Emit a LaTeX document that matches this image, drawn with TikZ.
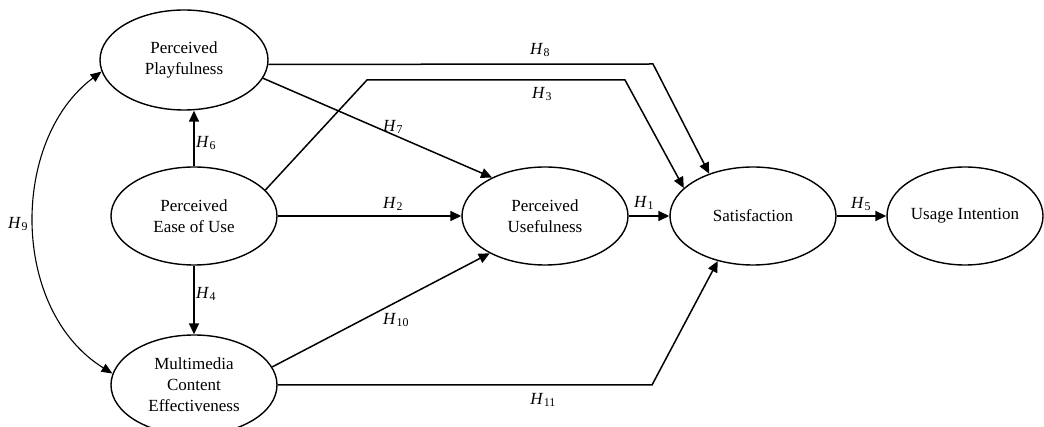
\documentclass[tikz,border=0pt]{standalone}
\usepackage{fontspec}
\setmainfont{Liberation Serif}
\usetikzlibrary{shapes.geometric,arrows.meta}
\newcommand{\hyp}[1]{\textit{H}\kern0.5pt\textsubscript{#1}}
\begin{document}
\begin{tikzpicture}[x=1pt,y=-1pt,
  latent/.style={ellipse,draw,line width=1.4pt,inner sep=0pt,minimum width=166pt,minimum height=98pt,align=center,font=\fontsize{17}{21}\selectfont},
  arr/.style={line width=1.5pt,-{Triangle[length=11pt,width=10pt]}},
  darr/.style={line width=1.1pt,{Triangle[length=11pt,width=9pt]}-{Triangle[length=11pt,width=9pt]}},
  lab/.style={font=\fontsize{17}{18}\selectfont,inner sep=1pt}]
\useasboundingbox (0,0) rectangle (1044,427);
% latent variables
\node[latent,minimum width=168pt,minimum height=100pt] (pp) at (184,60) {Perceived\\Playfulness};
\node[latent] (peou) at (194,216) {Perceived\\Ease of Use};
\node[latent,minimum height=100pt] (mce) at (194,385) {Multimedia\\Content\\Effectiveness};
\node[latent] (pu) at (545,216) {Perceived\\Usefulness};
\node[latent] (sat) at (753,216) {Satisfaction};
\node[latent,minimum width=156pt] (ui) at (965,216) {Usage Intention};
% bend points
\coordinate (c8) at (653,64);
\coordinate (c3a) at (367,80);
\coordinate (c3b) at (625,80);
\coordinate (c11) at (652,385);
% connectors
\draw[arr] (peou.north) -- (peou.north |- pp.south);
\draw[arr] (peou.south) -- (mce.north);
\draw[arr] (pp.-13) -- (pu.144);
\draw[arr] (peou.east) -- (pu.west);
\draw[arr] (pu.east) -- (sat.west);
\draw[arr] (sat.east) -- (ui.west);
\draw[arr] (mce.13) -- (pu.214);
\draw[arr] (pp.-3) -- (c8) -- (sat.136);
\draw[arr] (peou.20) -- (c3a) -- (c3b) -- (sat.158);
\draw[arr] (mce.east) -- (c11) -- (sat.232);
\draw[darr] (pp.188) .. controls (10,140) and (10,310) .. (mce.172);
% labels
\node[lab] (l8) at (540,50) {\hyp{8}};
\node[lab] (l3) at (542,94) {\hyp{3}};
\node[lab] (l7) at (393,127) {\hyp{7}};
\node[lab] (l2) at (393,204) {\hyp{2}};
\node[lab] (l1) at (644,203) {\hyp{1}};
\node[lab] (l5) at (861,204) {\hyp{5}};
\node[lab] (l6) at (206,143) {\hyp{6}};
\node[lab] (l4) at (206,294) {\hyp{4}};
\node[lab] (l9) at (18,224) {\hyp{9}};
\node[lab] (l10) at (396,320) {\hyp{10}};
\node[lab] (l11) at (543,400) {\hyp{11}};
\end{tikzpicture}
\end{document}
